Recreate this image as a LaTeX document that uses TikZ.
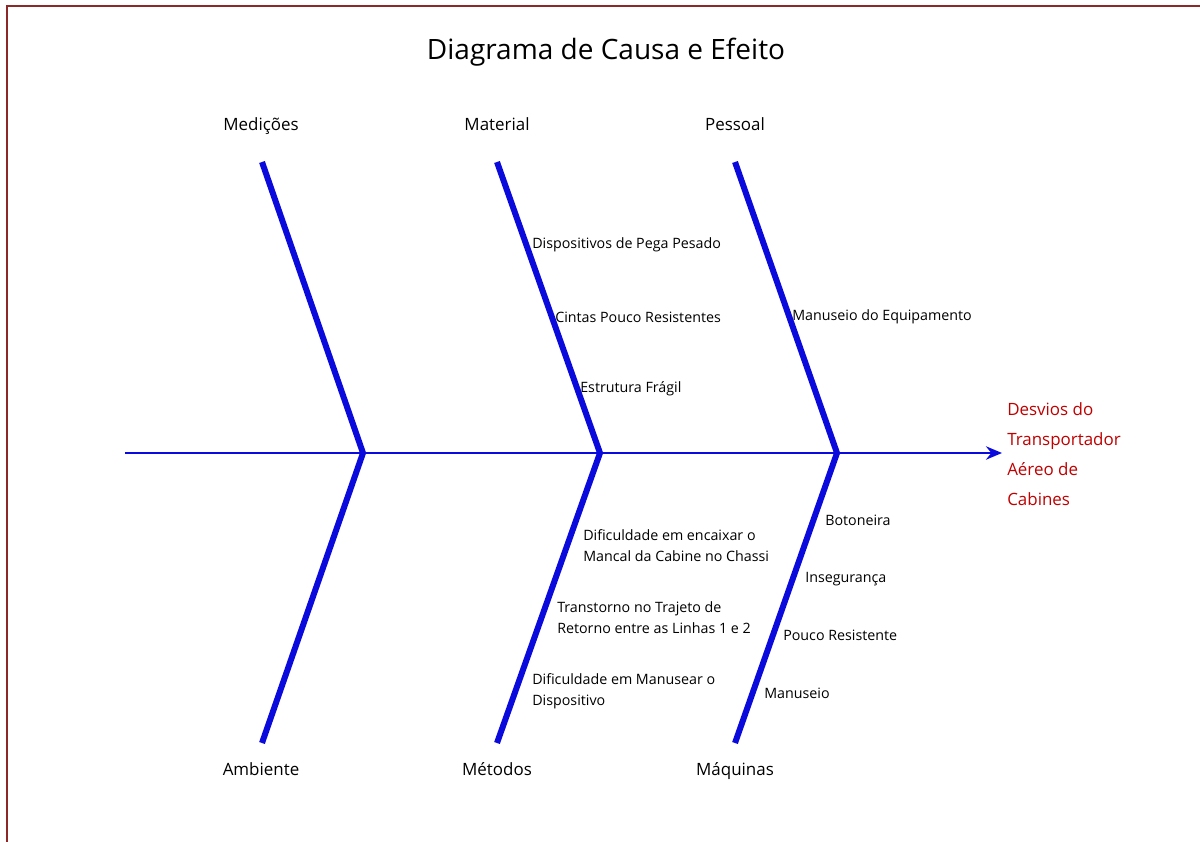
\documentclass[tikz,border=0pt]{standalone}
\usepackage{fontspec}
\setmainfont{Open Sans}
\usetikzlibrary{arrows.meta}
\definecolor{bone}{RGB}{10,10,220}
\definecolor{frame}{RGB}{140,40,40}
\definecolor{effect}{RGB}{192,0,0}
\begin{document}
\begin{tikzpicture}[x=0.75pt,y=-0.75pt,
  bonestyle/.style={line width=4.5pt,draw=bone},
  spinestyle/.style={line width=2pt,draw=bone,-{Stealth[length=12pt,width=10pt,inset=4pt]}},
  catlabel/.style={font=\fontsize{12.7}{14}\selectfont,anchor=base},
  cause/.style={font=\fontsize{10.7}{15.8}\selectfont,anchor=west,align=left,inner sep=0pt},
  efftext/.style={font=\fontsize{12.7}{22.5}\selectfont,text=effect,anchor=north west,align=left,inner sep=0pt}]
\useasboundingbox (0,0) rectangle (1200,842);
\draw[frame,line width=1.5pt] (7,842) -- (7,6) -- (1200,6);
\node[font=\fontsize{21}{24}\selectfont] (title) at (606,52) {Diagrama de Causa e Efeito};
% spine
\coordinate (tail) at (125,453);
\coordinate (j1) at (363,453);
\coordinate (j2) at (600,453);
\coordinate (j3) at (837,453);
\coordinate (head) at (1002,453);
\draw[spinestyle] (tail) -- (head);
% bone ends
\coordinate (t1) at (262,162);
\coordinate (t2) at (497,162);
\coordinate (t3) at (735,162);
\coordinate (b1) at (262,743);
\coordinate (b2) at (497,743);
\coordinate (b3) at (735,743);
\draw[bonestyle] (t1) -- (j1) -- (b1);
\draw[bonestyle] (t2) -- (j2) -- (b2);
\draw[bonestyle] (t3) -- (j3) -- (b3);
% category labels
\node[catlabel] (med) at (261,131) {Medições};
\node[catlabel] (mat) at (497,131) {Material};
\node[catlabel] (pes) at (735,131) {Pessoal};
\node[catlabel] (amb) at (261,775) {Ambiente};
\node[catlabel] (met) at (497,775) {Métodos};
\node[catlabel] (maq) at (735,775) {Máquinas};
% effect
\node[efftext] (eff) at (1007,402) {Desvios do\\Transportador\\Aéreo de\\Cabines};
% causes
\node[cause] (c1) at (532,245) {Dispositivos de Pega Pesado};
\node[cause] (c2) at (555,317) {Cintas Pouco Resistentes};
\node[cause] (c3) at (580,389) {Estrutura Frágil};
\node[cause] (c4) at (792,317) {Manuseio do Equipamento};
\node[cause] (c5) at (583,546) {Dificuldade em encaixar o\\Mancal da Cabine no Chassi};
\node[cause] (c6) at (557,618) {Transtorno no Trajeto de\\Retorno entre as Linhas 1 e 2};
\node[cause] (c7) at (532,691) {Dificuldade em Manusear o\\Dispositivo};
\node[cause] (c8) at (825,520) {Botoneira};
\node[cause] (c9) at (805,579) {Insegurança};
\node[cause] (c10) at (783,635) {Pouco Resistente};
\node[cause] (c11) at (764,693) {Manuseio};
\end{tikzpicture}
\end{document}
